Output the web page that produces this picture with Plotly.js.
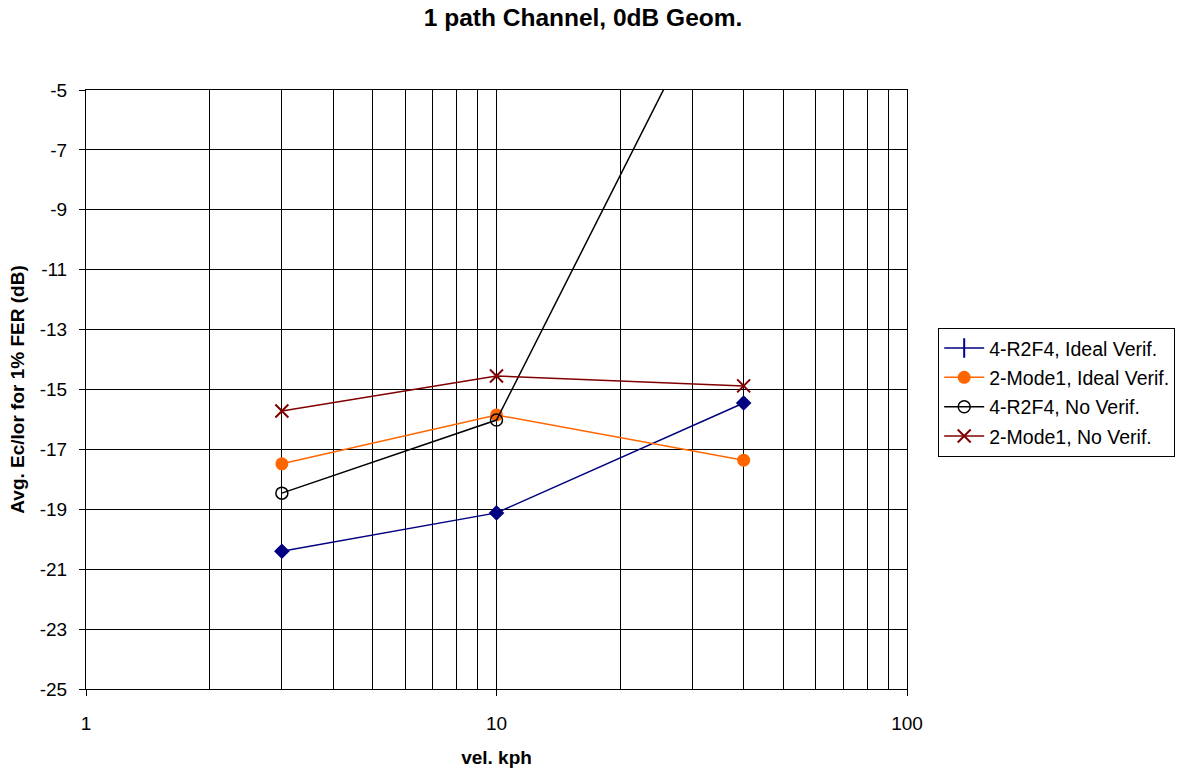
<!DOCTYPE html>
<html><head><meta charset="utf-8">
<script src="https://cdn.plot.ly/plotly-3.0.1.min.js"></script>
<style>body{margin:0;background:#fff}#c{width:1181px;height:774px}</style>
</head><body><div id="c"></div>
<script>
const velocity = [3, 10, 40];
const r2f4Ideal = [-20.4, -19.12, -15.45];
const mode1Ideal = [-17.48, -15.85, -17.36];
const r2f4NoVerif = [-18.46, -16.02, 0.3];
const mode1NoVerif = [-15.72, -14.55, -14.88];
const names = ["4-R2F4, Ideal Verif.", "2-Mode1, Ideal Verif.", "4-R2F4, No Verif.", "2-Mode1, No Verif."];
const xTickVals = [1, 10, 100];
const xMinorVals = [2,3,4,5,6,7,8,9,20,30,40,50,60,70,80,90];
const yTickVals = [-25,-23,-21,-19,-17,-15,-13,-11,-9,-7,-5];

const font = {family: "Liberation Sans, Arial, sans-serif", color: "#000"};
const traces = [
  {x: velocity, y: r2f4Ideal, name: names[0], mode: "lines+markers", showlegend: false,
   line: {color: "#000080", width: 1.5}, marker: {symbol: "diamond", size: 12, color: "#000080"}},
  {x: [null], y: [null], name: names[0], mode: "lines+markers", legendgroup: "a",
   line: {color: "#000080", width: 1.5}, marker: {symbol: "line-ns", size: 14, line: {color: "#000080", width: 2}}},
  {x: velocity, y: mode1Ideal, name: names[1], mode: "lines+markers", legendgroup: "b",
   line: {color: "#FF6600", width: 1.5}, marker: {symbol: "circle", size: 13, color: "#FF6600"}},
  {x: velocity, y: r2f4NoVerif, name: names[2], mode: "lines+markers", legendgroup: "c",
   line: {color: "#000000", width: 1.5}, marker: {symbol: "circle-open", size: 12, color: "#000000", line: {width: 1.5}}},
  {x: velocity, y: mode1NoVerif, name: names[3], mode: "lines+markers", legendgroup: "d",
   line: {color: "#800000", width: 1.5}, marker: {symbol: "x-thin-open", size: 13, color: "#800000", line: {color: "#800000", width: 2}}}
];
const layout = {
  width: 1181, height: 774,
  margin: {l: 86, r: 274, t: 90, b: 85, autoexpand: false},
  paper_bgcolor: "#fff", plot_bgcolor: "#fff",
  font: Object.assign({size: 19}, font),
  title: {text: "<b>1 path Channel, 0dB Geom.</b>", font: Object.assign({size: 24.5}, font), x: 0.4937, xanchor: "center", y: 0.988, yanchor: "top"},
  xaxis: {type: "log", range: [0, 2], tickvals: xTickVals, ticktext: xTickVals.map(String),
    showgrid: true, gridcolor: "#000", gridwidth: 1, zeroline: false,
    showline: true, linecolor: "#000", linewidth: 1, mirror: true,
    ticks: "outside", ticklen: 6, tickcolor: "#000", ticklabelstandoff: 11,
    tickfont: Object.assign({size: 19}, font),
    minor: {tickvals: xMinorVals, showgrid: true, gridcolor: "#000", gridwidth: 1, ticks: ""},
    title: {text: "<b>vel. kph</b>", font: Object.assign({size: 19}, font), standoff: 17}},
  yaxis: {range: [-25, -5], tickvals: yTickVals, ticktext: yTickVals.map(String),
    showgrid: true, gridcolor: "#000", gridwidth: 1, zeroline: false,
    showline: true, linecolor: "#000", linewidth: 1, mirror: true,
    ticks: "outside", ticklen: 6, tickcolor: "#000", ticklabelstandoff: 8,
    tickfont: Object.assign({size: 19}, font),
    title: {text: "<b>Avg. Ec/Ior for 1% FER (dB)</b>", font: Object.assign({size: 19}, font), standoff: 10}},
  legend: {x: 1.038, xanchor: "left", y: 0.603, yanchor: "top",
    bordercolor: "#000", borderwidth: 1, bgcolor: "#fff", itemwidth: 40,
    font: Object.assign({size: 19.5}, font), tracegroupgap: 1, traceorder: "grouped"},
  showlegend: true
};
Plotly.newPlot("c", traces, layout, {displayModeBar: false, staticPlot: true});
</script></body></html>
